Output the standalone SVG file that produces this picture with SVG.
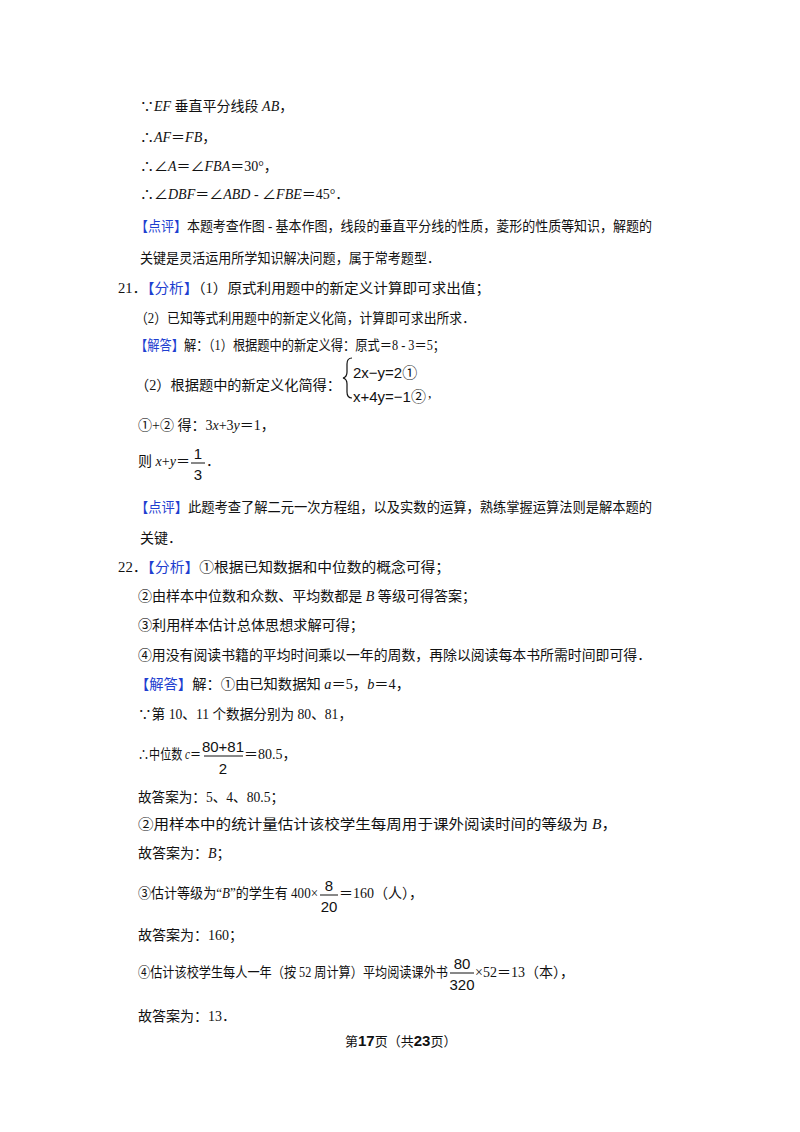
<svg xmlns="http://www.w3.org/2000/svg" width="800" height="1132" viewBox="0 0 800 1132">
<style>
text{font-family:"Liberation Serif","Noto Sans CJK SC",serif;font-size:14px;fill:#111}
.b{fill:#1f3fd0}
.i{font-style:italic}
.f{font-size:15px;font-family:"Liberation Sans","Noto Sans CJK SC",sans-serif}
.ft{font-size:13px}
.bold{font-weight:bold;font-family:"Liberation Sans",sans-serif;font-size:15px}
line{stroke:#111;stroke-width:1}
</style>
<rect width="800" height="1132" fill="#fff"/>
<g id="content">
<text x="140" y="111">∵<tspan class="i">EF</tspan> 垂直平分线段 <tspan class="i">AB</tspan>，</text>
<text x="140" y="142">∴<tspan class="i">AF</tspan>＝<tspan class="i">FB</tspan>，</text>
<text x="140" y="171">∴∠<tspan class="i">A</tspan>＝∠<tspan class="i">FBA</tspan>＝30°，</text>
<text x="140" y="199">∴∠<tspan class="i">DBF</tspan>＝∠<tspan class="i">ABD</tspan> - ∠<tspan class="i">FBE</tspan>＝45°．</text>
<text x="135" y="231" textLength="517" lengthAdjust="spacingAndGlyphs"><tspan class="b">【点评】</tspan>本题考查作图 - 基本作图，线段的垂直平分线的性质，菱形的性质等知识，解题的</text>
<text x="140" y="263" textLength="300" lengthAdjust="spacingAndGlyphs">关键是灵活运用所学知识解决问题，属于常考题型．</text>
<text x="118" y="293" textLength="372" lengthAdjust="spacingAndGlyphs">21．<tspan class="b">【分析】</tspan>（1）原式利用题中的新定义计算即可求出值；</text>
<text x="135" y="323" textLength="340" lengthAdjust="spacingAndGlyphs">（2）已知等式利用题中的新定义化简，计算即可求出所求．</text>
<text x="135" y="350" textLength="310" lengthAdjust="spacingAndGlyphs"><tspan class="b">【解答】</tspan>解：（1）根据题中的新定义得：原式＝8 - 3＝5；</text>
<text x="135" y="390" textLength="206" lengthAdjust="spacingAndGlyphs">（2）根据题中的新定义化简得：</text>
<path d="M352,358 q-5,0 -5,6 v8 q0,5 -4,6 q4,1 4,6 v8 q0,6 5,6" fill="none" stroke="#111" stroke-width="1.2"/>
<text class="f" x="353" y="378">2x−y=2①</text>
<text class="f" x="353" y="402">x+4y=−1②</text>
<text x="428" y="398">,</text>
<text x="138" y="430">①+② 得：3<tspan class="i">x</tspan>+3<tspan class="i">y</tspan>＝1，</text>
<text x="138" y="466" textLength="52" lengthAdjust="spacingAndGlyphs">则 <tspan class="i">x</tspan>+<tspan class="i">y</tspan>＝</text>
<text class="f" x="198" y="459" text-anchor="middle">1</text>
<line x1="191" y1="463" x2="205" y2="463"/>
<text class="f" x="198" y="480" text-anchor="middle">3</text>
<text x="206" y="466">．</text>
<text x="135" y="512" textLength="517" lengthAdjust="spacingAndGlyphs"><tspan class="b">【点评】</tspan>此题考查了解二元一次方程组，以及实数的运算，熟练掌握运算法则是解本题的</text>
<text x="140" y="543">关键．</text>
<text x="118" y="572" textLength="332" lengthAdjust="spacingAndGlyphs">22．<tspan class="b">【分析】</tspan>①根据已知数据和中位数的概念可得；</text>
<text x="138" y="601" textLength="338" lengthAdjust="spacingAndGlyphs">②由样本中位数和众数、平均数都是 <tspan class="i">B</tspan> 等级可得答案；</text>
<text x="138" y="630" textLength="226" lengthAdjust="spacingAndGlyphs">③利用样本估计总体思想求解可得；</text>
<text x="138" y="660" textLength="513" lengthAdjust="spacingAndGlyphs">④用没有阅读书籍的平均时间乘以一年的周数，再除以阅读每本书所需时间即可得．</text>
<text x="135" y="689" textLength="275" lengthAdjust="spacingAndGlyphs"><tspan class="b">【解答】</tspan>解：①由已知数据知 <tspan class="i">a</tspan>＝5，<tspan class="i">b</tspan>＝4，</text>
<text x="138" y="719" textLength="214" lengthAdjust="spacingAndGlyphs">∵第 10、11 个数据分别为 80、81，</text>
<text x="138" y="759" textLength="63" lengthAdjust="spacingAndGlyphs">∴中位数 <tspan class="i">c</tspan>＝</text>
<text class="f" x="223" y="752" text-anchor="middle">80+81</text>
<line x1="204" y1="756" x2="243" y2="756"/>
<text class="f" x="223" y="774" text-anchor="middle">2</text>
<text x="244" y="759">＝80.5，</text>
<text x="138" y="802" textLength="146" lengthAdjust="spacingAndGlyphs">故答案为：5、4、80.5；</text>
<text x="138" y="829" textLength="479" lengthAdjust="spacingAndGlyphs">②用样本中的统计量估计该校学生每周用于课外阅读时间的等级为 <tspan class="i">B</tspan>，</text>
<text x="138" y="858">故答案为：<tspan class="i">B</tspan>；</text>
<text x="138" y="898" textLength="180" lengthAdjust="spacingAndGlyphs">③估计等级为“<tspan class="i">B</tspan>”的学生有 400×</text>
<text class="f" x="329" y="891" text-anchor="middle">8</text>
<line x1="320" y1="895" x2="338" y2="895"/>
<text class="f" x="329" y="912" text-anchor="middle">20</text>
<text x="339" y="898">＝160（人），</text>
<text x="138" y="940">故答案为：160；</text>
<text x="138" y="977" textLength="310" lengthAdjust="spacingAndGlyphs">④估计该校学生每人一年（按 52 周计算）平均阅读课外书</text>
<text class="f" x="462" y="969" text-anchor="middle">80</text>
<line x1="450" y1="973" x2="474" y2="973"/>
<text class="f" x="462" y="990" text-anchor="middle">320</text>
<text x="475" y="977">×52＝13（本），</text>
<text x="138" y="1021">故答案为：13．</text>
<text class="ft" x="345" y="1046">第<tspan class="bold">17</tspan>页（共<tspan class="bold">23</tspan>页）</text>
</g>
</svg>
